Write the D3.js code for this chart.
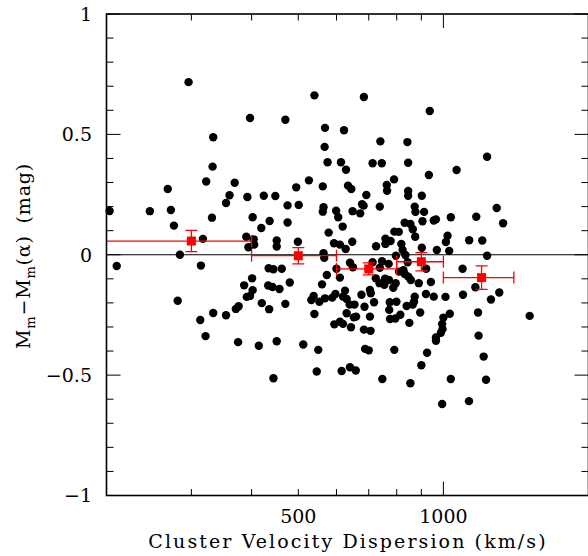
<!DOCTYPE html>
<html lang="en">
<head>
<meta charset="UTF-8">
<title>Residuals vs cluster velocity dispersion</title>
<script src="https://d3js.org/d3.v7.min.js"></script>
<style>
    body { margin: 0; background: white; }
    text { font-family: 'DejaVu Serif', serif; fill: black; }
</style>
</head>
<body>
<script>
    const width = 588;
    const height = 556;
    const plotLeft = 106.5, plotRight = 588.5, plotTop = 14, plotBottom = 495.5;

    // individual galaxies: cluster velocity dispersion (km/s) and residual (mag)
    const sigma = [296,397,470,333,332,322,369,268,360,392,424,448,354,475,203,246,272,331,402,436,
        475,276,419,317,390,404,451,394,405,451,284,210,314,434,444,462,401,386,433,442,
        457,480,402,391,397,281,420,470,376,371,435,333,354,313,321,375,414,451,444,
        540,684,937,568,622,740,842,567,575,613,628,713,745,845,933,1065,1232,526,790,
        495,562,634,644,763,764,845,845,902,692,501,564,562,599,605,648,672,678,683,738,
        872,875,912,905,955,965,1036,831,854,864,618,578,791,808,874,1020,1012,1131,1204,1170,
        1290,1330,499,593,610,627,647,725,758,758,777,818,823,902,969,1028,1232,564,566,797,
        834,843,640,649,600,610,573,713,746,770,738,809,826,831,846,724,757,771,737,754,
        787,796,856,889,942,921,1096,560,625,704,707,676,619,630,597,588,568,553,538,532,
        872,869,920,955,1010,1098,1165,1255,1306,718,686,639,654,630,659,652,704,774,799,772,
        839,864,895,814,775,795,540,594,610,619,643,684,706,850,1000,1031,994,996,988,965,
        965,1180,1183,1510,512,550,688,700,791,925,546,615,640,658,747,854,900,1036,994,1130,
        1212,1226];
    const resid = [0.717,0.568,0.561,0.488,0.366,0.304,0.299,0.273,0.247,0.240,0.245,0.244,0.215,0.205,0.182,0.181,0.186,0.154,0.156,0.140,
        0.134,0.121,0.111,0.066,0.075,0.064,0.059,0.031,0.042,0.034,0.000,-0.047,-0.045,-0.056,-0.060,-0.058,-0.098,-0.127,-0.128,-0.134,
        -0.142,-0.115,-0.147,-0.175,-0.171,-0.191,-0.201,-0.204,-0.214,-0.225,-0.226,-0.242,-0.251,-0.271,-0.338,-0.363,-0.378,-0.359,-0.513,
        0.662,0.655,0.597,0.527,0.517,0.471,0.468,0.448,0.384,0.384,0.353,0.380,0.380,0.382,0.331,0.352,0.407,0.309,0.313,
        0.280,0.284,0.287,0.273,0.290,0.266,0.265,0.245,0.245,0.248,0.207,0.197,0.179,0.183,0.156,0.181,0.172,0.210,0.204,0.200,
        0.200,0.178,0.178,0.139,0.142,0.147,0.156,0.133,0.128,0.106,0.117,0.092,0.096,0.095,0.075,0.079,0.053,0.060,0.059,0.158,
        0.194,0.131,0.054,0.048,0.042,0.024,0.054,0.035,0.067,0.045,0.057,0.045,0.020,0.029,0.020,0.016,-0.004,0.006,-0.013,-0.004,
        -0.001,-0.031,-0.033,-0.052,-0.058,-0.095,-0.084,-0.031,-0.027,-0.038,-0.054,-0.070,-0.064,-0.080,-0.091,-0.098,-0.099,-0.105,-0.118,-0.125,
        -0.137,-0.118,-0.105,-0.118,-0.113,-0.058,-0.058,-0.123,-0.149,-0.146,-0.160,-0.166,-0.174,-0.184,-0.163,-0.178,-0.181,-0.195,-0.171,-0.188,
        -0.174,-0.195,-0.163,-0.174,-0.175,-0.166,-0.135,-0.186,-0.157,-0.197,-0.216,-0.207,-0.207,-0.243,-0.257,-0.260,-0.257,-0.197,-0.195,-0.229,
        -0.213,-0.207,-0.240,-0.249,-0.267,-0.265,-0.246,-0.289,-0.278,-0.287,-0.301,-0.311,-0.316,-0.283,-0.261,-0.245,-0.287,-0.309,-0.324,-0.344,
        -0.357,-0.240,-0.336,-0.254,-0.373,-0.395,-0.391,-0.397,-0.395,-0.407,-0.485,-0.483,-0.467,-0.481,-0.516,-0.534,-0.459,-0.516,-0.620,-0.608,
        -0.423,-0.519];

    // binned means
    const binSigma = [300, 500, 700, 900, 1200];
    const binLo    = [150, 400, 600, 800, 1000];
    const binHi    = [400, 600, 800, 1000, 1400];
    const binMean  = [0.057, -0.004, -0.059, -0.029, -0.095];
    const binErr   = [0.044, 0.034, 0.025, 0.038, 0.049];

    const xMinorTicks = [300, 400, 500, 600, 700, 800, 900, 2000];
    const xMajorTicks = [1000];
    const xLabels = [500, 1000];
    const yLabels = [1, 0.5, 0, -0.5, -1];
    const yLabelText = ['1', '0.5', '0', '\u22120.5', '\u22121'];

    const x = d3.scaleLog().domain([200, 2000]).range([plotLeft, plotRight]);
    const y = d3.scaleLinear().domain([-1, 1]).range([plotBottom, plotTop]);

    const svg = d3.select("body").append("svg").attr("width", width).attr("height", height);

    svg.append("clipPath").attr("id", "plotclip")
        .append("rect").attr("x", plotLeft).attr("y", plotTop)
        .attr("width", plotRight - plotLeft).attr("height", plotBottom - plotTop);

    // zero line
    svg.append("line")
        .attr("x1", plotLeft).attr("x2", plotRight).attr("y1", y(0)).attr("y2", y(0))
        .style("stroke", "black").style("stroke-width", 1);

    // points
    svg.append("g").selectAll("circle")
        .data(sigma.map((s, i) => ({s: s, r: resid[i]}))).enter()
        .append("circle")
        .attr("cx", d => x(d.s))
        .attr("cy", d => y(d.r))
        .attr("r", 4.2)
        .style("fill", "black");

    // binned means with error bars
    const bins = binSigma.map((s, i) => ({s: s, lo: binLo[i], hi: binHi[i], m: binMean[i], e: binErr[i]}));
    const bg = svg.append("g").attr("clip-path", "url(#plotclip)")
        .style("stroke", "#ff0000").style("stroke-width", 1.3);
    bg.selectAll(".hbar").data(bins).enter().append("line")
        .attr("x1", d => x(d.lo)).attr("x2", d => x(d.hi))
        .attr("y1", d => y(d.m)).attr("y2", d => y(d.m));
    bg.selectAll(".vbar").data(bins).enter().append("line")
        .attr("x1", d => x(d.s)).attr("x2", d => x(d.s))
        .attr("y1", d => y(d.m - d.e)).attr("y2", d => y(d.m + d.e));
    bins.forEach(function(d) {
        [d.m - d.e, d.m + d.e].forEach(function(v) {
            bg.append("line").attr("x1", x(d.s) - 6).attr("x2", x(d.s) + 6).attr("y1", y(v)).attr("y2", y(v));
        });
        [d.lo, d.hi].forEach(function(v) {
            bg.append("line").attr("x1", x(v)).attr("x2", x(v)).attr("y1", y(d.m) - 6).attr("y2", y(d.m) + 6);
        });
    });
    svg.append("g").selectAll("rect")
        .data(bins).enter()
        .append("rect")
        .attr("x", d => x(d.s) - 4.5)
        .attr("y", d => y(d.m) - 4.5)
        .attr("width", 9).attr("height", 9)
        .style("fill", "#ff0000");

    // frame
    svg.append("rect")
        .attr("x", plotLeft).attr("y", plotTop)
        .attr("width", plotRight - plotLeft).attr("height", plotBottom - plotTop)
        .style("fill", "none").style("stroke", "black").style("stroke-width", 1.6);

    // ticks
    const ticks = svg.append("g").style("stroke", "black").style("stroke-width", 1);
    function xTick(v, len) {
        ticks.append("line").attr("x1", x(v)).attr("x2", x(v)).attr("y1", plotBottom).attr("y2", plotBottom - len);
        ticks.append("line").attr("x1", x(v)).attr("x2", x(v)).attr("y1", plotTop).attr("y2", plotTop + len);
    }
    function yTick(v, len) {
        ticks.append("line").attr("x1", plotLeft).attr("x2", plotLeft + len).attr("y1", y(v)).attr("y2", y(v));
        ticks.append("line").attr("x1", plotRight).attr("x2", plotRight - len).attr("y1", y(v)).attr("y2", y(v));
    }
    xMinorTicks.forEach(v => xTick(v, 6.5));
    xMajorTicks.forEach(v => xTick(v, 14));
    d3.range(-10, 11).forEach(function(i) {
        yTick(i / 10, i % 5 === 0 ? 14 : 7);
    });

    // tick labels
    svg.selectAll(".xl").data(xLabels).enter().append("text")
        .attr("x", d => x(d)).attr("y", 522.5)
        .attr("text-anchor", "middle")
        .style("font-size", "19px")
        .text(d => d);
    svg.selectAll(".yl").data(yLabels).enter().append("text")
        .attr("x", 92).attr("y", d => y(d)).attr("dy", "0.36em")
        .attr("text-anchor", "end")
        .style("font-size", "19px")
        .text((d, i) => yLabelText[i]);

    // axis titles
    svg.append("text")
        .attr("x", 348).attr("y", 548)
        .attr("text-anchor", "middle")
        .style("font-size", "19px")
        .style("letter-spacing", "2.1px")
        .text("Cluster Velocity Dispersion (km/s)");

    const yt = svg.append("text")
        .attr("transform", "translate(30,256) rotate(-90)")
        .attr("text-anchor", "middle")
        .style("font-size", "19px")
        .style("letter-spacing", "0.8px");
    yt.append("tspan").text("M");
    yt.append("tspan").text("m").attr("dy", 5).style("font-size", "13px");
    yt.append("tspan").text("\u2212M").attr("dy", -5);
    yt.append("tspan").text("m").attr("dy", 5).style("font-size", "13px");
    yt.append("tspan").text("(\u03b1)").attr("dy", -5);
    yt.append("tspan").text("(mag)").attr("dx", 12);
</script>
</body>
</html>
